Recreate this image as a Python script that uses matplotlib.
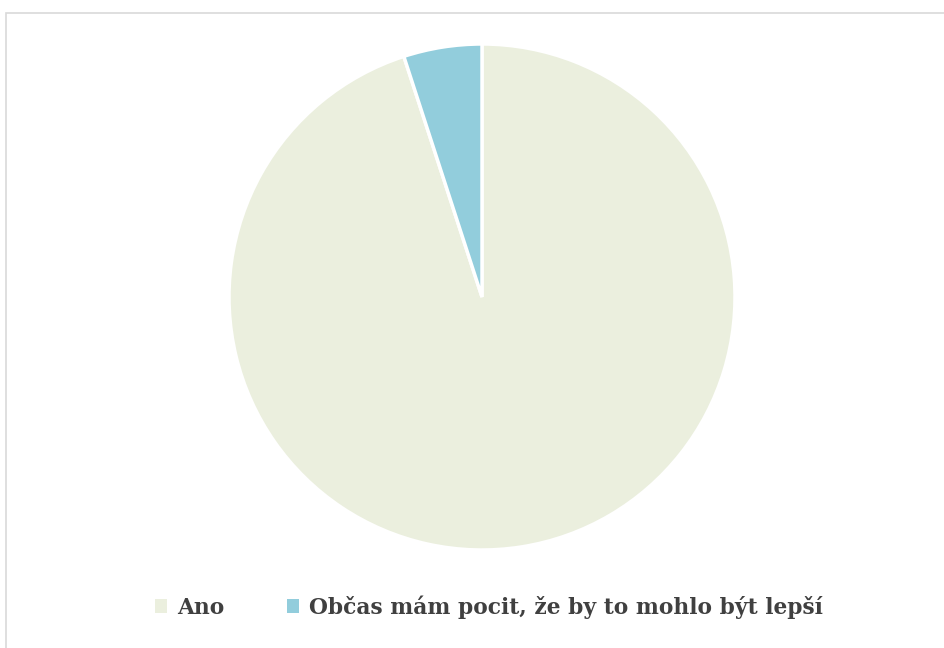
import matplotlib
matplotlib.use("Agg")
from matplotlib import pyplot as plt
from matplotlib.patches import Rectangle, Patch

labels = ['Ano', 'Občas mám pocit, že by to mohlo být lepší']
values = [95, 5]
colors = ['#EBEFDE', '#92CDDC']

fig = plt.figure(figsize=(9.44, 6.48), dpi=100)
# chart frame: only left and top edges are visible in the crop
fig.patches.append(Rectangle((6/944, -0.05), 1.0, 1.05 - 12.5/648, transform=fig.transFigure,
                             fill=False, edgecolor='#D9D9D9', linewidth=1.2))

r = 253
ax = fig.add_axes([(482 - r)/944, (648 - 297 - r)/648, 2*r/944, 2*r/648])
ax.pie(values, colors=colors, startangle=90, counterclock=False,
       wedgeprops=dict(edgecolor='white', linewidth=2.5))
ax.set_aspect('equal')
ax.set_xlim(-1, 1)
ax.set_ylim(-1, 1)

handles = [Patch(facecolor=c, edgecolor='none') for c in colors]
leg = fig.legend(handles, labels, loc='center', bbox_to_anchor=(489/944, 1 - 607/648),
                 ncol=2, frameon=False, handlelength=0.55, handleheight=0.55,
                 handletextpad=0.45, columnspacing=2.9,
                 prop=dict(family='DejaVu Serif', weight='bold', size=15.7))
for t in leg.get_texts():
    t.set_color('#404040')

fig.savefig('out.png', dpi=100)
